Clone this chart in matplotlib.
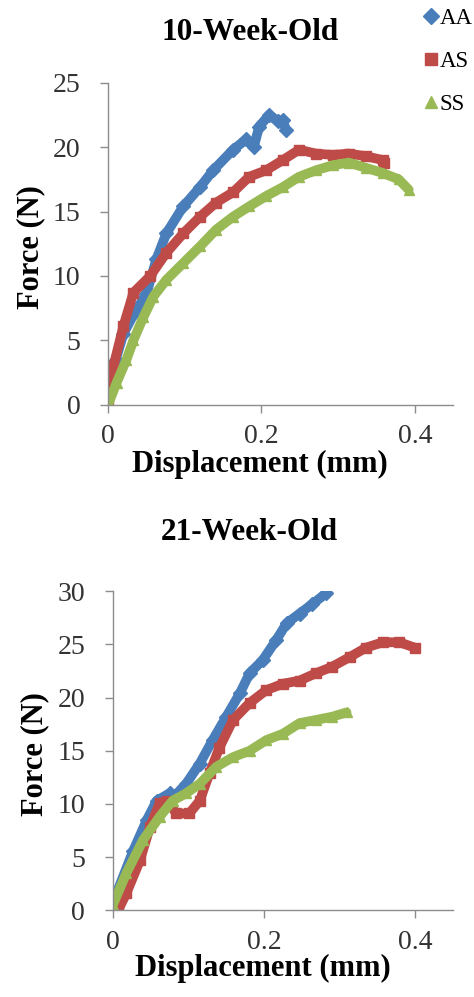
import matplotlib
matplotlib.use("Agg")
import matplotlib.pyplot as plt

labels = ["AA", "AS", "SS"]
colors = ["#4a7ebb", "#be4b48", "#98b954"]
markers = ["D", "s", "^"]

# 10-week-old
aa10_x = [0.0, 0.01, 0.02, 0.035, 0.05, 0.063, 0.076, 0.098, 0.12, 0.137, 0.163, 0.18, 0.19, 0.197, 0.21, 0.222, 0.228, 0.232]
aa10_y = [1.3, 3.5, 5.5, 7.2, 8.6, 11.3, 13.3, 15.4, 16.9, 18.2, 19.8, 20.6, 20.0, 21.6, 22.5, 22.0, 22.1, 21.3]
as10_x = [0.0, 0.007, 0.02, 0.033, 0.055, 0.076, 0.098, 0.12, 0.141, 0.163, 0.184, 0.206, 0.228, 0.249, 0.271, 0.293, 0.314, 0.336, 0.358, 0.36]
as10_y = [0.0, 3.0, 6.1, 8.7, 10.0, 11.8, 13.3, 14.6, 15.7, 16.5, 17.7, 18.2, 19.0, 19.8, 19.5, 19.4, 19.5, 19.3, 19.0, 18.8]
ss10_x = [0.0, 0.011, 0.024, 0.033, 0.046, 0.059, 0.076, 0.098, 0.12, 0.141, 0.163, 0.184, 0.206, 0.228, 0.249, 0.271, 0.293, 0.314, 0.336, 0.358, 0.379, 0.392]
ss10_y = [0.0, 1.7, 3.5, 5.0, 6.8, 8.4, 9.7, 11.0, 12.3, 13.6, 14.6, 15.4, 16.2, 16.9, 17.7, 18.2, 18.6, 18.8, 18.4, 18.0, 17.5, 16.7]

# 21-week-old
aa21_x = [0.0, 0.027, 0.045, 0.058, 0.075, 0.08, 0.097, 0.115, 0.132, 0.15, 0.168, 0.181, 0.198, 0.216, 0.23, 0.247, 0.264, 0.282]
aa21_y = [0.7, 5.6, 8.5, 10.3, 11.0, 10.6, 11.9, 13.8, 16.0, 18.2, 20.4, 22.3, 23.5, 25.4, 27.0, 27.9, 28.8, 29.8]
as21_x = [0.007, 0.018, 0.036, 0.049, 0.062, 0.072, 0.084, 0.101, 0.115, 0.128, 0.141, 0.159, 0.181, 0.203, 0.225, 0.247, 0.269, 0.29, 0.313, 0.335, 0.357, 0.379, 0.399]
as21_y = [0.0, 1.6, 4.7, 7.8, 10.1, 10.3, 9.1, 9.1, 10.3, 12.9, 15.3, 17.9, 19.5, 20.7, 21.3, 21.6, 22.3, 22.9, 23.8, 24.7, 25.2, 25.2, 24.7]
ss21_x = [0.0, 0.018, 0.04, 0.062, 0.079, 0.097, 0.115, 0.137, 0.159, 0.181, 0.203, 0.225, 0.247, 0.269, 0.29, 0.309]
ss21_y = [0.5, 3.5, 6.6, 8.8, 10.3, 11.0, 11.9, 13.5, 14.4, 15.0, 16.0, 16.6, 17.6, 17.9, 18.2, 18.6]

x_ticks = [0, 0.2, 0.4]
x_ticklabels = ["0", "0.2", "0.4"]
y_ticks_10 = [0, 5, 10, 15, 20, 25]
y_ticks_21 = [0, 5, 10, 15, 20, 25, 30]

plt.rcParams['font.family'] = ['Liberation Serif', 'DejaVu Serif']

fig = plt.figure(figsize=(4.74, 9.97), dpi=100)
ax1 = fig.add_axes([0.228, 0.594, 0.728, 0.323])
ax2 = fig.add_axes([0.238, 0.087, 0.718, 0.320])

grey = "#8c8c8c"
tickc = "#333333"

def style(ax, yticks, ymax, title, title_y, xlab_y, ylab_x):
    ax.set_xlim(0, 0.45)
    ax.set_ylim(0, ymax)
    ax.set_xticks(x_ticks)
    ax.set_xticklabels(x_ticklabels)
    ax.set_yticks(yticks)
    for s in ["top", "right"]:
        ax.spines[s].set_visible(False)
    for s in ["left", "bottom"]:
        ax.spines[s].set_color(grey)
        ax.spines[s].set_linewidth(1.0)
    ax.tick_params(axis="both", direction="out", color=grey, length=6, width=1,
                   labelsize=20, labelcolor=tickc)
    ax.tick_params(axis="y", pad=14)
    ax.tick_params(axis="x", pad=8)
    ax.set_xlabel("Displacement (mm)", fontsize=22, fontweight="bold", va="center")
    ax.xaxis.set_label_coords(0.44, xlab_y)
    ax.set_ylabel("Force (N)", fontsize=22, fontweight="bold", va="center")
    ax.yaxis.set_label_coords(ylab_x, 0.49)
    fig.text(0.527, title_y, title, ha="center", va="center", fontsize=22.5, fontweight="bold")

series10 = [(aa10_x, aa10_y), (as10_x, as10_y), (ss10_x, ss10_y)]
series21 = [(aa21_x, aa21_y), (as21_x, as21_y), (ss21_x, ss21_y)]

handles = []
for (x, y), c, m, lab in zip(series10, colors, markers, labels):
    ax1.plot(x, y, color=c, lw=7, solid_joinstyle="round", solid_capstyle="round", zorder=2)
    ax1.plot(x, y, ls="none", marker=m, color=c, ms=7, zorder=2)
    h, = ax1.plot([], [], ls="none", marker=m, color=c, ms=8, label=lab)
    handles.append(h)
for (x, y), c, m in zip(series21, colors, markers):
    ax2.plot(x, y, color=c, lw=7, solid_joinstyle="round", solid_capstyle="round", zorder=2)
    ax2.plot(x, y, ls="none", marker=m, color=c, ms=7, zorder=2)

style(ax1, y_ticks_10, 25, "10-Week-Old", 1 - 33 / 997, -0.185, -0.225)
style(ax2, y_ticks_21, 30, "21-Week-Old", 1 - 533 / 997, -0.182, -0.228)

fig.legend(handles=handles, loc="upper left", bbox_to_anchor=(0.86, 1.008), frameon=False,
           fontsize=16.5, handlelength=0.6, handletextpad=0.1, labelspacing=0.95, borderpad=0.2)

fig.savefig("out.png", dpi=100, facecolor="white")
